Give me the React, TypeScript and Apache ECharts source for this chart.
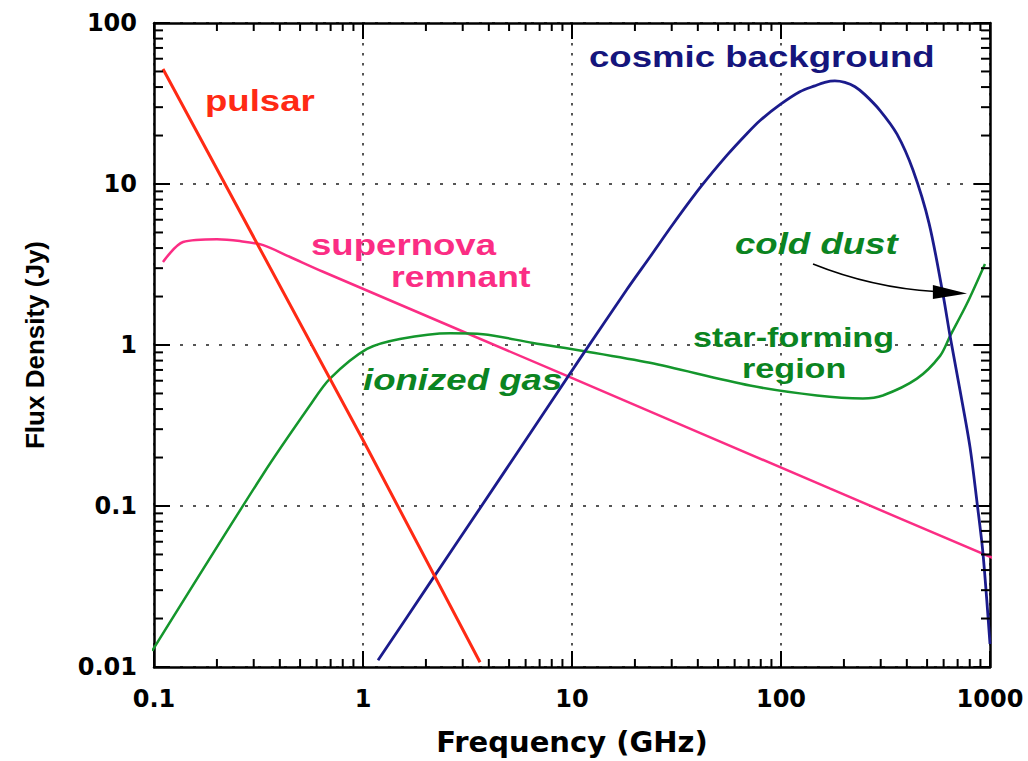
import React, { useEffect, useRef } from 'react';
import * as echarts from 'echarts';

// Tick labels
const xTickLabels = [0.1, 1, 10, 100, 1000];
const yTickLabels = [0.01, 0.1, 1, 10, 100];

// Series values: [frequency GHz, flux density Jy]
const pulsar = [[0.1104, 51.8], [1.0, 0.257], [3.63, 0.0107]];
const supernova = [
  [0.1104, 3.28], [0.1377, 4.36], [0.2, 4.54], [0.2576, 4.42], [0.333, 4.17],
  [0.448, 3.52], [0.644, 2.85], [9.9, 0.627], [171, 0.1285], [1079, 0.0464],
];
const gas = [
  [0.098, 0.0126], [0.332, 0.157], [0.558, 0.422], [0.695, 0.618], [1.045, 0.945],
  [1.5, 1.09], [2.61, 1.185], [3.75, 1.168], [6.5, 1.03], [11.3, 0.919], [23.6, 0.775],
  [71, 0.56], [148.6, 0.486], [246.6, 0.466], [307, 0.486], [447, 0.618], [577, 0.856],
  [644, 1.136], [776, 1.81], [946, 3.19],
];
const cosmic = [
  [1.18, 0.011], [2.09, 0.0333], [3.63, 0.0969], [6.3, 0.282], [10.9, 0.82], [18.3, 2.21],
  [23.6, 3.52], [30.4, 5.62], [41.0, 9.48], [55.2, 15.1], [68.8, 20.6], [79.4, 24.8],
  [98.9, 31.1], [123, 37.4], [145, 40.7], [162, 42.8], [181, 43.7], [202, 42.8],
  [226, 40.2], [252, 35.9], [298, 28.6], [359, 20.4], [428, 12.2], [511, 5.7], [596, 2.06],
  [644, 1.136], [719, 0.522], [802, 0.233], [867, 0.105], [926, 0.0505], [1000, 0.0139],
];

// Annotation arrow ("cold dust") in data coordinates
const arrowCurve = [[142.3, 3.19], [213.8, 2.58], [332, 2.24], [545, 2.15]];
const arrowHead = [[776, 2.09], [533, 2.36], [533, 1.93]];

// Minor log ticks (2..9 per decade)
const minorMultipliers = [2, 3, 4, 5, 6, 7, 8, 9];
const xDecades = [0.1, 1, 10, 100];
const yDecades = [0.01, 0.1, 1, 10];
const xMinor: number[] = [];
xDecades.forEach((d) => minorMultipliers.forEach((m) => xMinor.push(+(d * m).toPrecision(3))));
const yMinor: number[] = [];
yDecades.forEach((d) => minorMultipliers.forEach((m) => yMinor.push(+(d * m).toPrecision(3))));

const RED = '#ff2a14';
const PINK = '#fb2d84';
const GREEN = '#14962c';
const GREEN_TXT = '#0b8421';
const BLUE = '#1b1b8c';
const BLUE_TXT = '#15157c';

const tickFont = { fontFamily: '"DejaVu Sans", sans-serif', fontWeight: 'bold' as const, fontSize: 24, color: '#000' };

function fmt(ticks: number[]) {
  return (v: number) => {
    for (const t of ticks) if (Math.abs(Math.log10(v) - Math.log10(t)) < 1e-6) return String(t);
    return '';
  };
}

function label(text: string, left: number, baseline: number, size: number, color: string, italic = false) {
  return {
    type: 'text',
    x: left,
    y: baseline - 0.35 * size,
    scaleX: 1.22,
    z: 100,
    silent: true,
    style: {
      text,
      fill: color,
      font: `${italic ? 'italic ' : ''}bold ${size}px "Liberation Sans", Arial, sans-serif`,
      align: 'left',
      verticalAlign: 'middle',
      textAlign: 'left',
      textVerticalAlign: 'middle',
    },
  };
}

function axisLine() {
  return { show: true, lineStyle: { color: '#000', width: 2.5 } };
}
function axisTick() {
  return { show: true, inside: true, length: 16, lineStyle: { color: '#000', width: 2 } };
}

export default function App() {
  const ref = useRef<HTMLDivElement>(null);
  useEffect(() => {
    const chart = echarts.init(ref.current!, null, { renderer: 'svg' });
    const option: any = {
      animation: false,
      backgroundColor: '#fff',
      grid: { left: 154, right: 38, top: 23, bottom: 87, containLabel: false },
      xAxis: [
        {
          type: 'log', logBase: 10, min: 0.1, max: 1000, position: 'bottom',
          name: 'Frequency (GHz)', nameLocation: 'middle', nameGap: 60,
          nameTextStyle: { fontFamily: '"DejaVu Sans", sans-serif', fontWeight: 'bold', fontSize: 29, color: '#000' },
          axisLine: axisLine(), axisTick: axisTick(),
          axisLabel: { ...tickFont, margin: 20, formatter: fmt(xTickLabels) },
          splitLine: { show: true, lineStyle: { color: '#555', width: 2, type: [2.5, 7.5] } },
        },
        {
          type: 'log', logBase: 10, min: 0.1, max: 1000, position: 'top',
          axisLine: axisLine(), axisTick: axisTick(),
          axisLabel: { show: false }, splitLine: { show: false },
        },
      ],
      yAxis: [
        {
          type: 'log', logBase: 10, min: 0.01, max: 100, position: 'left',
          name: 'Flux Density (Jy)', nameLocation: 'middle', nameGap: 106,
          nameTextStyle: { fontFamily: '"Liberation Sans", Arial, sans-serif', fontWeight: 'bold', fontSize: 26, color: '#000' },
          axisLine: axisLine(), axisTick: axisTick(),
          axisLabel: { ...tickFont, margin: 17, formatter: fmt(yTickLabels) },
          splitLine: { show: true, lineStyle: { color: '#555', width: 2, type: [3, 10] } },
        },
        {
          type: 'log', logBase: 10, min: 0.01, max: 100, position: 'right',
          axisLine: axisLine(), axisTick: axisTick(),
          axisLabel: { show: false }, splitLine: { show: false },
        },
      ],
      series: [
        {
          type: 'line', name: 'pulsar', data: pulsar, symbol: 'none', clip: false,
          lineStyle: { color: RED, width: 3 }, z: 5,
        },
        {
          type: 'line', name: 'supernova remnant', data: supernova, symbol: 'none', smooth: 0.3, clip: false,
          lineStyle: { color: PINK, width: 2.5 }, z: 4,
        },
        {
          type: 'line', name: 'ionized gas', data: gas, symbol: 'none', smooth: 0.3, clip: false,
          lineStyle: { color: GREEN, width: 2.5 }, z: 4,
        },
        {
          type: 'line', name: 'cosmic background', data: cosmic, symbol: 'none', smooth: 0.3, clip: false,
          lineStyle: { color: BLUE, width: 2.8 }, z: 4,
        },
        {
          type: 'custom', name: 'xMinor', coordinateSystem: 'cartesian2d', silent: true, clip: false,
          data: xMinor.map((v) => [v, 1]),
          renderItem: (params: any, api: any) => {
            const x = api.coord([api.value(0), 1])[0];
            const cs = params.coordSys;
            const st = { stroke: '#000', lineWidth: 2 };
            return {
              type: 'group',
              children: [
                { type: 'line', shape: { x1: x, y1: cs.y + cs.height, x2: x, y2: cs.y + cs.height - 8 }, style: st },
                { type: 'line', shape: { x1: x, y1: cs.y, x2: x, y2: cs.y + 8 }, style: st },
              ],
            };
          },
          z: 6,
        },
        {
          type: 'custom', name: 'yMinor', coordinateSystem: 'cartesian2d', silent: true, clip: false,
          data: yMinor.map((v) => [1, v]),
          renderItem: (params: any, api: any) => {
            const y = api.coord([1, api.value(1)])[1];
            const cs = params.coordSys;
            const st = { stroke: '#000', lineWidth: 2 };
            return {
              type: 'group',
              children: [
                { type: 'line', shape: { x1: cs.x, y1: y, x2: cs.x + 9, y2: y }, style: st },
                { type: 'line', shape: { x1: cs.x + cs.width, y1: y, x2: cs.x + cs.width - 9, y2: y }, style: st },
              ],
            };
          },
          z: 6,
        },
      ],
    };
    chart.setOption(option);

    const toPx = (p: number[]) => chart.convertToPixel({ xAxisIndex: 0, yAxisIndex: 0 } as any, p) as unknown as number[];
    const c = arrowCurve.map(toPx);
    const h = arrowHead.map(toPx);
    chart.setOption({
      graphic: [
        label('pulsar', 205, 111, 30, RED),
        label('supernova', 311, 255, 30, PINK),
        label('remnant', 391, 287, 29, PINK),
        label('ionized gas', 363, 390, 30, GREEN_TXT, true),
        label('cosmic background', 589, 67, 30, BLUE_TXT),
        label('cold dust', 735, 254, 30, GREEN_TXT, true),
        label('star-forming', 693, 347, 28, GREEN_TXT),
        label('region', 742, 378, 28, GREEN_TXT),
        {
          type: 'bezierCurve', z: 101, silent: true,
          shape: { x1: c[0][0], y1: c[0][1], cpx1: c[1][0], cpy1: c[1][1], cpx2: c[2][0], cpy2: c[2][1], x2: c[3][0], y2: c[3][1] },
          style: { stroke: '#000', lineWidth: 1.6, fill: null },
        },
        {
          type: 'polygon', z: 101, silent: true,
          shape: { points: h },
          style: { fill: '#000' },
        },
      ],
    });
    return () => chart.dispose();
  }, []);
  return <div ref={ref} style={{ position: 'fixed', left: 0, top: 0, width: 1028, height: 761, background: '#fff' }} />;
}
